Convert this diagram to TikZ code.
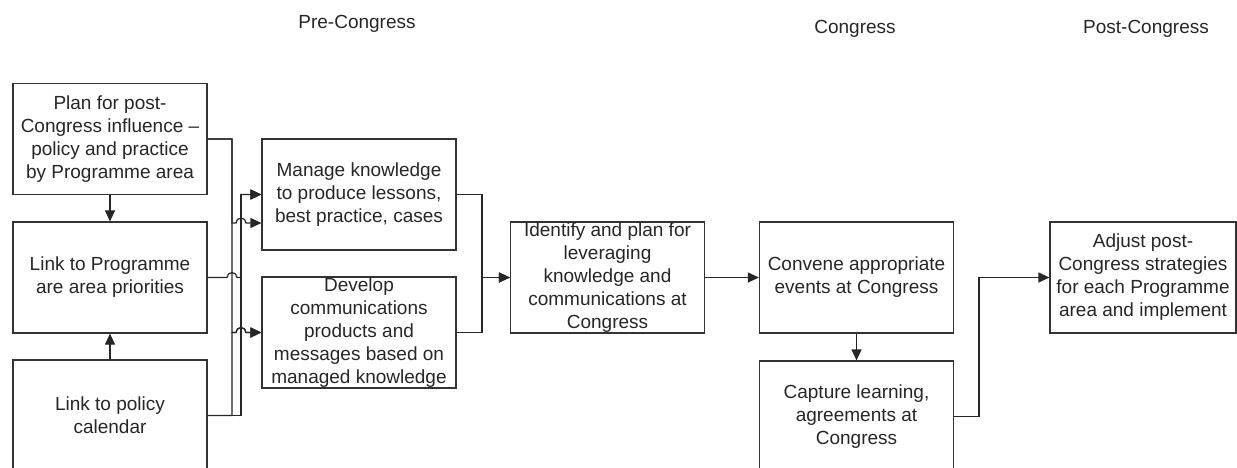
\documentclass[tikz,border=0pt]{standalone}
\usepackage{fontspec}
\setmainfont{Liberation Sans}
\usepackage{tikz}
\usetikzlibrary{arrows.meta,positioning}

\begin{document}
\begin{tikzpicture}[x=1pt,y=-1pt,
        box/.style={draw=black!80, line width=1.2pt, text=black!85, align=center,
            minimum width=194pt, minimum height=111pt, inner xsep=2pt, inner ysep=0pt,
            font=\fontsize{19pt}{23pt}\selectfont},
        link/.style={draw=black!85, line width=1.2pt, -{Triangle[length=11pt,width=10pt]}},
        phase/.style={anchor=base, text=black!85, font=\fontsize{19pt}{23pt}\selectfont}]
        \useasboundingbox (0,0) rectangle (1237,467);
        % Phase headings
        \node[phase] (pre) at (357,28) {Pre-Congress};
        \node[phase] (con) at (855,33) {Congress};
        \node[phase] (post) at (1146,33) {Post-Congress};
        % Left column
        \node[box] (plan) at (110,139) {Plan for post-\\Congress influence –\\policy and practice\\by Programme area};
        \node[box] (prog) at (110,277.5) {Link to Programme\\are area priorities};
        \node[box] (cal) at (110,415.5) {Link to policy\\calendar};
        % Knowledge and communications
        \node[box] (manage) at (359,194.5) {Manage knowledge\\to produce lessons,\\best practice, cases};
        \node[box] (develop) at (359,332.5) {Develop\\communications\\products and\\messages based on\\managed knowledge};
        \node[box] (identify) at (607.5,277.5) {Identify and plan for\\leveraging\\knowledge and\\communications at\\Congress};
        % Congress
        \node[box] (convene) at (856.5,277.5) {Convene appropriate\\events at Congress};
        \node[box] (capture) at (856.5,416.5) {Capture learning,\\agreements at\\Congress};
        % Post-Congress
        \node[box, minimum width=186pt] (adjust) at (1143,277.5) {Adjust post-\\Congress strategies\\for each Programme\\area and implement};
        % Vertical links
        \draw[link] (plan) -- (prog);
        \draw[link] (cal) -- (prog);
        % Bus lines with hops
        \draw[link] (plan.east) -| (232,223) -- (236,223) arc[start angle=180, end angle=360, radius=5] -- ([yshift=-28.5pt]manage.west);
        \draw[link] (plan.east) -| (232,332.5) -- (236,332.5) arc[start angle=180, end angle=360, radius=5] -- (develop.west);
        \draw[link] (cal.east) -| (232,332.5) -- (236,332.5) arc[start angle=180, end angle=360, radius=5] -- (develop.west);
        \draw[link] (prog.east) -- (227,277.5) arc[start angle=180, end angle=360, radius=5] -- (241,277.5) |- (manage.west);
        \draw[link] (cal.east) -| (241,277.5) |- (manage.west);
        % Merge into identify
        \draw[link] (manage.east) -| (482,277.5) -- (identify.west);
        \draw[link] (develop.east) -| (482,277.5) -- (identify.west);
        \draw[link] (identify) -- (convene);
        \draw[link] (convene) -- (capture);
        \draw[link] (capture.east) -| (979,277.5) -- (adjust.west);
\end{tikzpicture}
\end{document}
